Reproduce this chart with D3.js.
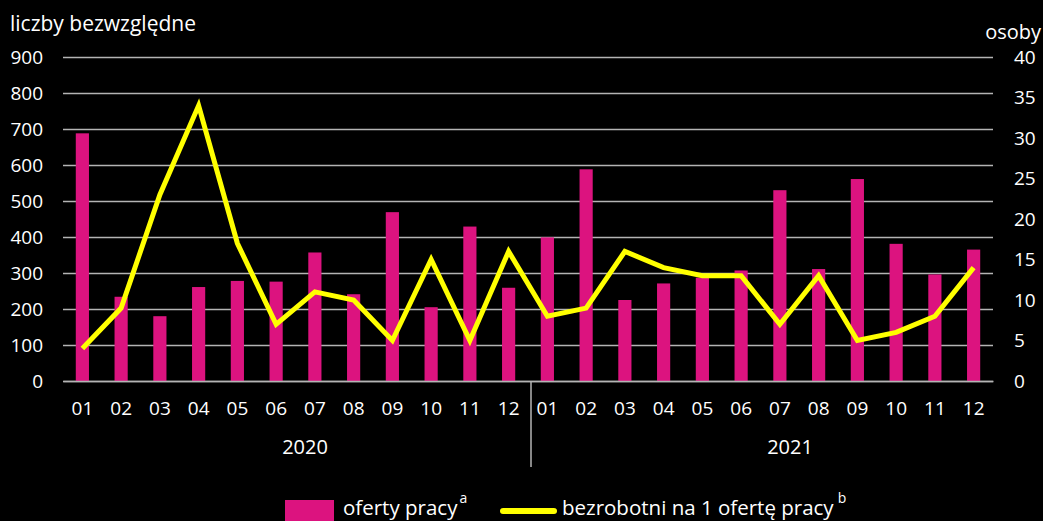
<!DOCTYPE html>
<html>
<head>
<meta charset="utf-8">
<title>oferty pracy</title>
<style>
  body { margin: 0; background: #000; }
  svg { display: block; }
  text { font-family: "Open Sans", sans-serif; fill: #fff; }
</style>
</head>
<body>
<script src="https://cdn.jsdelivr.net/npm/d3@7"></script>
<script>
var months = ["01","02","03","04","05","06","07","08","09","10","11","12"];
var years = ["2020", "2021"];
var oferty = [688, 234, 180, 261, 278, 276, 357, 241, 469, 205, 429, 259,
              399, 588, 225, 271, 287, 307, 530, 311, 561, 381, 296, 365];
var bezrobotni = [4, 9, 23, 34, 17, 7, 11, 10, 5, 15, 5, 16,
                  8, 9, 16, 14, 13, 13, 7, 13, 5, 6, 8, 14];
var leftTicks = [0, 100, 200, 300, 400, 500, 600, 700, 800, 900];
var rightTicks = [0, 5, 10, 15, 20, 25, 30, 35, 40];

var W = 1043, H = 521;
var svg = d3.select("body").append("svg")
    .attr("width", W)
    .attr("height", H);

var keys = [];
years.forEach(function (y) {
  months.forEach(function (m) { keys.push(y + "-" + m); });
});

var x = d3.scaleBand().domain(keys).range([63, 993]).paddingInner(0.66).paddingOuter(0.33);
var yL = d3.scaleLinear().domain([0, 900]).range([381, 57]);
var yR = d3.scaleLinear().domain([0, 40]).range([381, 57]);

// grid
var gridAxis = d3.axisLeft(yL).tickValues(leftTicks).tickSize(-(993 - 63)).tickFormat("");
var grid = svg.append("g").attr("transform", "translate(63,0)").call(gridAxis);
grid.select(".domain").remove();
grid.selectAll("line").attr("stroke", "#b4b4b4").attr("stroke-width", 1.5);

// left labels
var la = svg.append("g").attr("transform", "translate(43,0)")
  .call(d3.axisLeft(yL).tickValues(leftTicks).tickSize(0).tickPadding(0));
la.select(".domain").remove();
la.selectAll("text").attr("font-size", 19).attr("font-family", "Open Sans").attr("fill", "#fff");

// right labels
var ra = svg.append("g").attr("transform", "translate(1014,0)")
  .call(d3.axisRight(yR).tickValues(rightTicks).tickSize(0).tickPadding(0));
ra.select(".domain").remove();
ra.selectAll("text").attr("font-size", 19).attr("font-family", "Open Sans").attr("fill", "#fff");

svg.append("text").attr("x", 10).attr("y", 31).attr("font-size", 21).text("liczby bezwzględne");
svg.append("text").attr("x", 1041).attr("y", 39).attr("font-size", 20).attr("text-anchor", "end").text("osoby");

// bars
svg.append("g").selectAll("rect")
  .data(oferty)
  .enter().append("rect")
    .attr("x", function (d, i) { return x(keys[i]); })
    .attr("width", x.bandwidth())
    .attr("y", function (d) { return yL(d); })
    .attr("height", function (d) { return yL(0) - yL(d); })
    .attr("fill", "#dc137f");

// x axis
var xa = svg.append("g").attr("transform", "translate(0,381)")
  .call(d3.axisBottom(x).tickSize(0).tickPadding(21).tickFormat(function (d) { return d.slice(5); }));
xa.select(".domain").attr("stroke", "#b4b4b4").attr("stroke-width", 1.5);
xa.selectAll("text").attr("font-size", 19).attr("font-family", "Open Sans").attr("fill", "#fff");

// year separator + labels
var sepX = (x(keys[11]) + x.bandwidth() + x(keys[12])) / 2 + 3;
svg.append("line").attr("x1", sepX).attr("x2", sepX).attr("y1", 381).attr("y2", 467)
  .attr("stroke", "#b4b4b4").attr("stroke-width", 1.5);
var yearX = [305, 790];
years.forEach(function (y, k) {
  svg.append("text").attr("x", yearX[k]).attr("y", 454).attr("font-size", 20)
    .attr("text-anchor", "middle").text(y);
});

// line
var line = d3.line()
  .x(function (d, i) { return x(keys[i]) + x.bandwidth() / 2; })
  .y(function (d) { return yR(d); });
svg.append("path").datum(bezrobotni)
  .attr("d", line)
  .attr("fill", "none")
  .attr("stroke", "#ffff00")
  .attr("stroke-width", 5)
  .attr("stroke-linejoin", "miter");

// legend
svg.append("rect").attr("x", 285).attr("y", 500).attr("width", 49).attr("height", 21).attr("fill", "#dc137f");
var t1 = svg.append("text").attr("x", 343).attr("y", 515).attr("font-size", 20.5);
t1.append("tspan").text("oferty pracy");
t1.append("tspan").attr("dy", -12).attr("dx", 2).attr("font-size", 14).text("a");
svg.append("line").attr("x1", 503).attr("x2", 554).attr("y1", 511).attr("y2", 511)
  .attr("stroke", "#ffff00").attr("stroke-width", 6).attr("stroke-linecap", "round");
var t2 = svg.append("text").attr("x", 562).attr("y", 515).attr("font-size", 20.5);
t2.append("tspan").text("bezrobotni na 1 ofertę pracy");
t2.append("tspan").attr("dy", -12).attr("dx", 4).attr("font-size", 14).text("b");
</script>
</body>
</html>
